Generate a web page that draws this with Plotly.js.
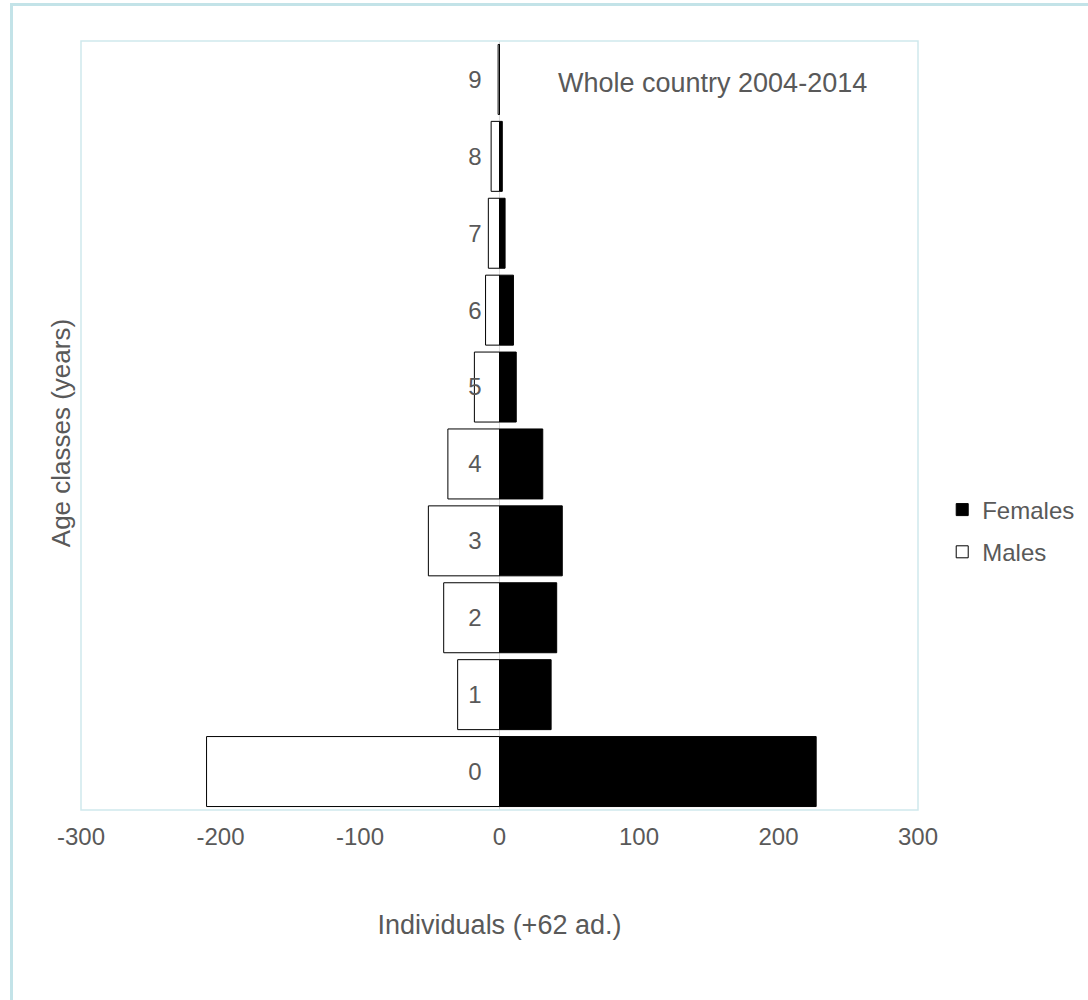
<!DOCTYPE html>
<html>
<head>
<meta charset="utf-8">
<script src="https://cdn.plot.ly/plotly-3.0.1.min.js"></script>
<style>
  html, body { margin: 0; padding: 0; overflow: hidden; background: #ffffff; }
  #frame { position: absolute; left: 10px; top: 3px; width: 1200px; height: 1200px; border: 3px solid #c3e3e8; box-sizing: border-box; }
  #chart { position: absolute; left: 0; top: 0; width: 1088px; height: 1000px; }
</style>
</head>
<body>
<div id="frame"></div>
<div id="chart"></div>
<script>
// Data
const ageClasses = ['0', '1', '2', '3', '4', '5', '6', '7', '8', '9'];
const females = [227, 37, 41, 45, 31, 12, 10, 4, 2, 0];
const males = [-210, -30, -40, -51, -37, -18, -10, -8, -6, -1];
const xTickValues = [-300, -200, -100, 0, 100, 200, 300];
const xTickLabels = ['-300', '-200', '-100', '0', '100', '200', '300'];

const FONT = 'Liberation Sans, Arial, sans-serif';
const GREY = '#595959';

const traces = [
  {
    type: 'bar', orientation: 'h', name: 'Females', legendgroup: 'f',
    y: ageClasses, x: females,
    marker: { color: '#000000', line: { color: '#000000', width: 1 } },
    hoverinfo: 'x+y'
  },
  {
    type: 'bar', orientation: 'h', name: 'Males', legendgroup: 'm',
    y: ageClasses, x: males,
    marker: { color: '#ffffff', line: { color: '#000000', width: 1 } },
    hoverinfo: 'x+y'
  }
];

const layout = {
  width: 1088, height: 1000,
  margin: { l: 81, r: 170, t: 41, b: 190 },
  paper_bgcolor: 'rgba(0,0,0,0)',
  plot_bgcolor: '#ffffff',
  barmode: 'relative',
  bargap: 0.09,
  font: { family: FONT, size: 24, color: GREY },
  xaxis: {
    range: [-300, 300],
    tickvals: xTickValues, ticktext: xTickLabels,
    showgrid: false,
    zeroline: true, zerolinecolor: '#d9d9d9', zerolinewidth: 1.5,
    showline: false,
    ticks: '', ticklabelstandoff: 10,
    tickfont: { family: FONT, size: 24, color: GREY },
    title: { text: 'Individuals (+62 ad.)', font: { family: FONT, size: 27, color: GREY }, standoff: 66 },
    fixedrange: true
  },
  yaxis: {
    type: 'category',
    categoryorder: 'array', categoryarray: ageClasses,
    anchor: 'free', position: 0.5,
    showgrid: false, zeroline: false, showline: false,
    ticks: '', ticklabelstandoff: 18,
    tickfont: { family: FONT, size: 24, color: GREY },
    fixedrange: true
  },
  shapes: [
    { type: 'rect', xref: 'paper', yref: 'paper', x0: 0, x1: 1, y0: 0, y1: 1,
      line: { color: '#cfe9ed', width: 1.5 }, fillcolor: 'rgba(0,0,0,0)', layer: 'above' }
  ],
  annotations: [
    { text: 'Whole country 2004-2014', xref: 'paper', yref: 'paper', x: 0.755, y: 0.945,
      xanchor: 'center', yanchor: 'middle', showarrow: false,
      font: { family: FONT, size: 27, color: GREY } },
    { text: 'Age classes (years)', xref: 'paper', yref: 'paper', x: 0, y: 0.49,
      xanchor: 'right', yanchor: 'middle', xshift: -3, textangle: -90, showarrow: false,
      font: { family: FONT, size: 26, color: GREY } }
  ],
  legend: {
    xref: 'container', yref: 'container',
    x: 0.866, y: 0.469, xanchor: 'left', yanchor: 'middle',
    traceorder: 'grouped', tracegroupgap: 8,
    font: { family: FONT, size: 24, color: GREY },
    bgcolor: 'rgba(0,0,0,0)'
  },
  showlegend: true
};

Plotly.newPlot('chart', traces, layout, { displayModeBar: false, staticPlot: true });
</script>
</body>
</html>
